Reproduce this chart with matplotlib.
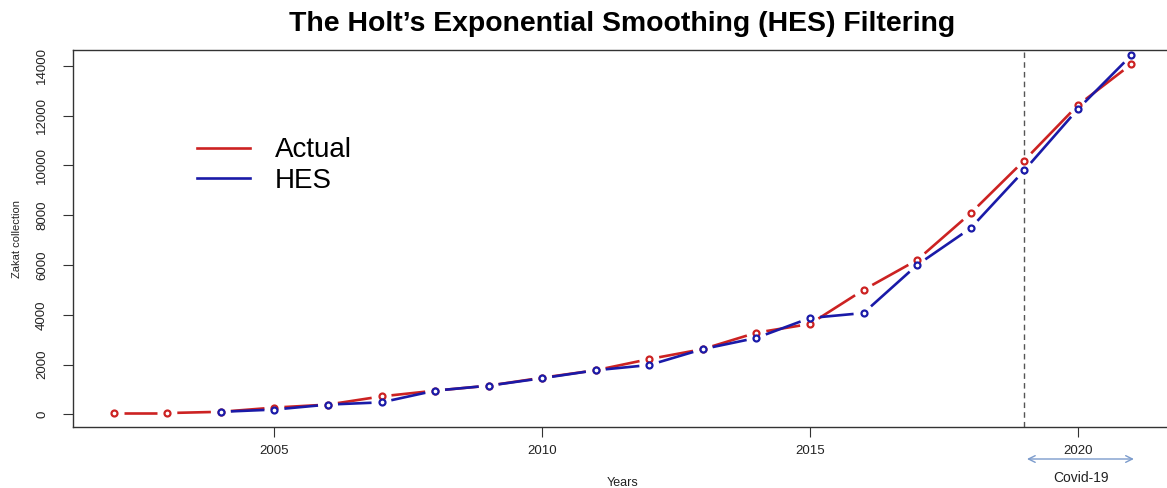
import numpy as np
import matplotlib.pyplot as plt

plt.rcParams['font.family'] = ['Liberation Sans', 'DejaVu Sans']

years = np.arange(2002, 2022)
actual = [50, 50, 100, 270, 390, 720, 950, 1150, 1470, 1770, 2220, 2620, 3280, 3630, 5000, 6200, 8080, 10200, 12420, 14070]
hes_years = np.arange(2004, 2022)
hes = [100, 190, 390, 480, 950, 1150, 1450, 1770, 1980, 2620, 3070, 3870, 4070, 6000, 7480, 9800, 12260, 14430]

red = '#cc2222'
blue = '#1a1aa8'

fig = plt.figure(figsize=(11.67, 4.88), dpi=100)
ax = fig.add_axes([0.0626, 0.125, 0.9417, 0.7725])
ax.set_xlim(2001.24, 2021.76)
ax.set_ylim(-511, 14641)


def broken_line(x, y, color, gap=10):
    # line segments stop short of each point, like type="b"
    pts = ax.transData.transform(np.column_stack([x, y]))
    inv = ax.transData.inverted()
    for p0, p1 in zip(pts[:-1], pts[1:]):
        d = p1 - p0
        n = np.hypot(*d)
        if n <= 2 * gap:
            continue
        u = d / n
        seg = inv.transform(np.array([p0 + u * gap, p1 - u * gap]))
        ax.plot(seg[:, 0], seg[:, 1], color=color, lw=1.9, solid_capstyle='butt')
    ax.plot(x, y, 'o', ms=4.3, mfc='white', mec=color, mew=1.6, zorder=3)


broken_line(years, actual, red)
broken_line(hes_years, hes, blue)

ax.axvline(2019, color='#555555', lw=1, ls=(0, (4, 3)))

for s in ['top', 'right', 'left', 'bottom']:
    ax.spines[s].set_color('#333333')
    ax.spines[s].set_linewidth(1)

ax.set_xticks([2005, 2010, 2015, 2020])
ax.set_yticks(np.arange(0, 14001, 2000))
ax.tick_params(axis='x', length=7, pad=6, labelsize=9.5, color='#333333', labelcolor='#222222')
ax.tick_params(axis='y', length=7, pad=11, labelsize=9.5, color='#333333', labelcolor='#222222',
               labelrotation=90)
for t in ax.get_yticklabels():
    t.set_va('center')

ax.set_ylabel('Zakat collection', fontsize=8, color='#222222', labelpad=10)
ax.set_xlabel('Years', fontsize=9, color='#222222', labelpad=14)

fig.suptitle("The Holt\u2019s Exponential Smoothing (HES) Filtering", x=0.533, y=0.978,
             fontsize=20.4, fontweight='bold')

# legend without frame
ax.plot([], [], color=red, lw=1.9, label='Actual')
ax.plot([], [], color=blue, lw=1.9, label='HES')
handles, labels = ax.get_legend_handles_labels()
ax.legend(handles[-2:], labels[-2:], loc='upper left', bbox_to_anchor=(0.113, 0.768),
          frameon=False, fontsize=20, handlelength=1.9, handletextpad=0.9,
          labelspacing=0.17, borderpad=0, borderaxespad=0)

# covid period marker below the axis
ax.annotate('', xy=(2019, 29), xycoords=('data', 'figure pixels'),
            xytext=(2021.1, 29), textcoords=('data', 'figure pixels'),
            arrowprops=dict(arrowstyle='<->', color='#7b9bcc', lw=1, mutation_scale=12),
            annotation_clip=False)
ax.annotate('Covid-19', xy=(2020.06, 10), xycoords=('data', 'figure pixels'),
            ha='center', va='center', fontsize=10, color='#222222', annotation_clip=False)

fig.savefig('out.png', dpi=100)
